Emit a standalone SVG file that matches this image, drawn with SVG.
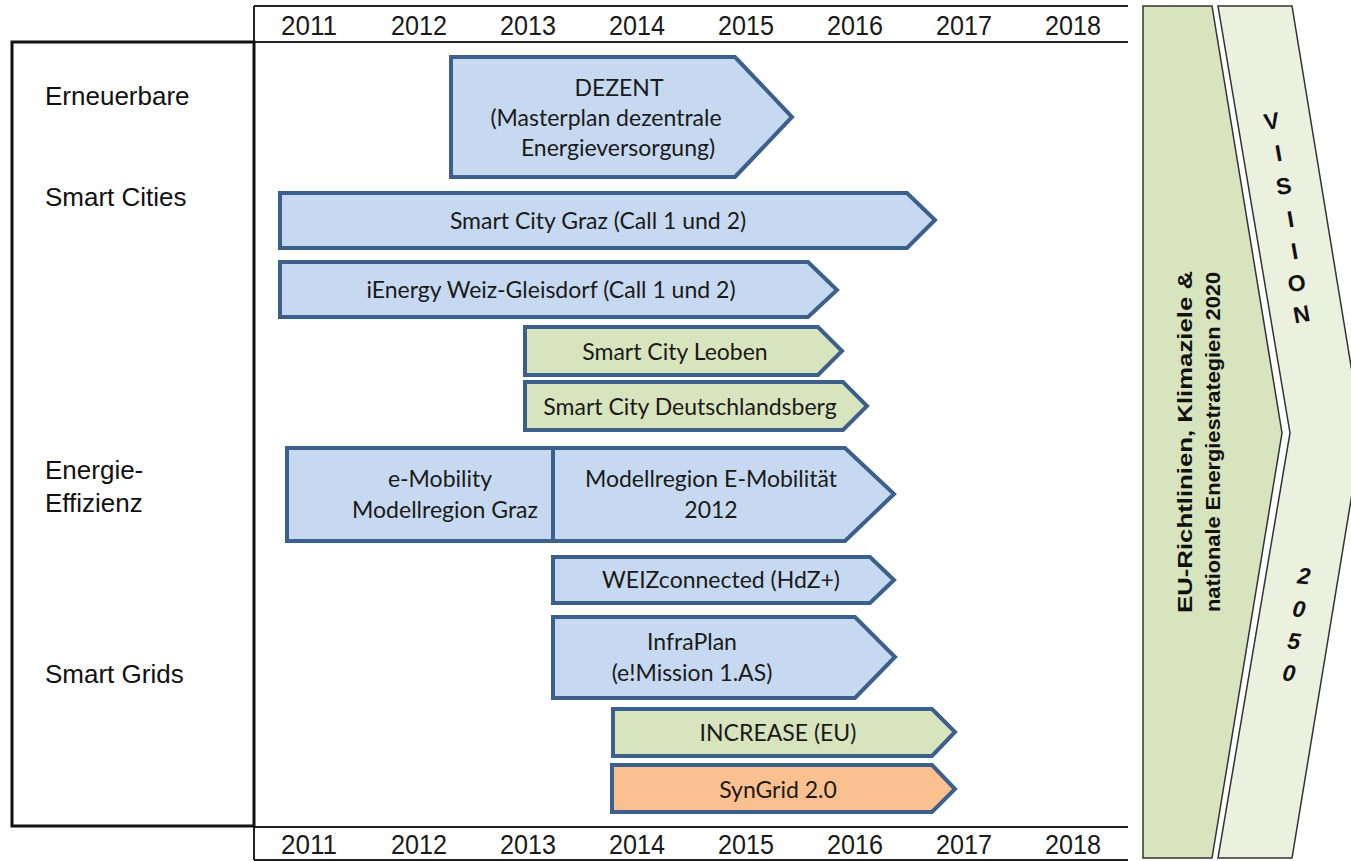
<svg xmlns="http://www.w3.org/2000/svg" width="1351" height="861" viewBox="0 0 1351 861">
  <style>
    .year { font-family: "Liberation Sans", Arial, sans-serif; font-size: 27px; fill: #1a1a1a; text-anchor: middle; }
    .cat { font-family: "Liberation Sans", Arial, sans-serif; font-size: 26px; fill: #111; }
    .bar { stroke: #3d5f8c; stroke-width: 4; stroke-linejoin: miter; }
    .blue { fill: #c6d9f1; }
    .green { fill: #d7e4bd; }
    .orange { fill: #fac090; }
    .lbl { font-family: Lato, "Noto Sans", sans-serif; font-size: 23px; fill: #1a1a1a; text-anchor: middle; }
    .grid { stroke: #222; stroke-width: 2; fill: none; }
    .side { font-family: "Liberation Sans", Arial, sans-serif; font-weight: bold; font-size: 21px; fill: #111; text-anchor: middle; }
    .vis { font-family: "Liberation Sans", Arial, sans-serif; font-weight: bold; font-size: 23px; fill: #111; text-anchor: middle; }
  </style>

  <rect width="1351" height="861" fill="#ffffff"/>

  <!-- year scale frame -->
  <g id="timeline-frame">
    <path class="grid" d="M254,6 H1128 M254,42 H1128 M254,827 H1128 M254,860 H1128 M254,6 V860"/>
  </g>

  <g id="years-top">
    <text class="year" x="309" y="35" textLength="56" lengthAdjust="spacingAndGlyphs">2011</text>
    <text class="year" x="419" y="35" textLength="56" lengthAdjust="spacingAndGlyphs">2012</text>
    <text class="year" x="528" y="35" textLength="56" lengthAdjust="spacingAndGlyphs">2013</text>
    <text class="year" x="637" y="35" textLength="56" lengthAdjust="spacingAndGlyphs">2014</text>
    <text class="year" x="746" y="35" textLength="56" lengthAdjust="spacingAndGlyphs">2015</text>
    <text class="year" x="855" y="35" textLength="56" lengthAdjust="spacingAndGlyphs">2016</text>
    <text class="year" x="964" y="35" textLength="56" lengthAdjust="spacingAndGlyphs">2017</text>
    <text class="year" x="1073" y="35" textLength="56" lengthAdjust="spacingAndGlyphs">2018</text>
  </g>
  <g id="years-bottom">
    <text class="year" x="309" y="854" textLength="56" lengthAdjust="spacingAndGlyphs">2011</text>
    <text class="year" x="419" y="854" textLength="56" lengthAdjust="spacingAndGlyphs">2012</text>
    <text class="year" x="528" y="854" textLength="56" lengthAdjust="spacingAndGlyphs">2013</text>
    <text class="year" x="637" y="854" textLength="56" lengthAdjust="spacingAndGlyphs">2014</text>
    <text class="year" x="746" y="854" textLength="56" lengthAdjust="spacingAndGlyphs">2015</text>
    <text class="year" x="855" y="854" textLength="56" lengthAdjust="spacingAndGlyphs">2016</text>
    <text class="year" x="964" y="854" textLength="56" lengthAdjust="spacingAndGlyphs">2017</text>
    <text class="year" x="1073" y="854" textLength="56" lengthAdjust="spacingAndGlyphs">2018</text>
  </g>

  <!-- category column -->
  <g id="categories">
    <rect x="12" y="42" width="242" height="784" fill="none" stroke="#111" stroke-width="3"/>
    <text class="cat" x="45" y="105">Erneuerbare</text>
    <text class="cat" x="45" y="206">Smart Cities</text>
    <text class="cat" x="45" y="479">Energie-</text>
    <text class="cat" x="45" y="512">Effizienz</text>
    <text class="cat" x="45" y="683">Smart Grids</text>
  </g>

  <!-- project bars -->
  <g id="dezent">
    <path class="bar blue" d="M451,57 H735 L792,117 L735,177 H451 Z"/>
    <text class="lbl" x="619" y="96">DEZENT</text>
    <text class="lbl" x="606" y="126">(Masterplan dezentrale</text>
    <text class="lbl" x="618" y="156">Energieversorgung)</text>
  </g>

  <g id="smart-city-graz">
    <path class="bar blue" d="M280,193 H907 L935,220 L907,248 H280 Z"/>
    <text class="lbl" x="598" y="229">Smart City Graz (Call 1 und 2)</text>
  </g>

  <g id="ienergy">
    <path class="bar blue" d="M280,262 H808 L837,290 L808,317 H280 Z"/>
    <text class="lbl" x="551" y="298">iEnergy Weiz-Gleisdorf (Call 1 und 2)</text>
  </g>

  <g id="smart-city-leoben">
    <path class="bar green" d="M525,327 H818 L842,351 L818,375 H525 Z"/>
    <text class="lbl" x="675" y="360">Smart City Leoben</text>
  </g>

  <g id="smart-city-deutschlandsberg">
    <path class="bar green" d="M525,382 H843 L867,406 L843,430 H525 Z"/>
    <text class="lbl" x="690" y="415">Smart City Deutschlandsberg</text>
  </g>

  <g id="e-mobility">
    <path class="bar blue" d="M287,448 H845 L894,494 L845,541 H287 Z"/>
    <path class="bar" d="M553,448 V541" fill="none"/>
    <text class="lbl" x="440" y="487">e-Mobility</text>
    <text class="lbl" x="445" y="518">Modellregion Graz</text>
    <text class="lbl" x="711" y="487">Modellregion E-Mobilität</text>
    <text class="lbl" x="711" y="518">2012</text>
  </g>

  <g id="weizconnected">
    <path class="bar blue" d="M553,557 H870 L894,580 L870,603 H553 Z"/>
    <text class="lbl" x="721" y="588">WEIZconnected (HdZ+)</text>
  </g>

  <g id="infraplan">
    <path class="bar blue" d="M553,617 H855 L895,657 L855,698 H553 Z"/>
    <text class="lbl" x="692" y="650">InfraPlan</text>
    <text class="lbl" x="692" y="681">(e!Mission 1.AS)</text>
  </g>

  <g id="increase">
    <path class="bar green" d="M613,709 H932 L955,732 L932,756 H613 Z"/>
    <text class="lbl" x="778" y="741">INCREASE (EU)</text>
  </g>

  <g id="syngrid">
    <path class="bar orange" d="M612,765 H932 L955,789 L932,812 H612 Z"/>
    <text class="lbl" x="778" y="798">SynGrid 2.0</text>
  </g>

  <!-- policy chevron -->
  <g id="eu-policy">
    <path d="M1143,6 H1212 L1282,433 L1212,858 H1143 Z" fill="#d7e4bd" stroke="#333" stroke-width="1.5"/>
    <g transform="translate(1200,442) rotate(-90)">
      <text class="side" x="0" y="-8" textLength="342" lengthAdjust="spacingAndGlyphs">EU-Richtlinien, Klimaziele &amp;</text>
      <text class="side" x="0" y="20" textLength="340" lengthAdjust="spacingAndGlyphs">nationale Energiestrategien 2020</text>
    </g>
  </g>

  <!-- vision chevron -->
  <g id="vision">
    <path d="M1218,6 H1292 L1362,433 L1292,858 H1218 L1290,433 Z" fill="#ebf1de" stroke="#333" stroke-width="1.5"/>
    <text class="vis" transform="translate(1273,129) rotate(-10)">V</text>
    <text class="vis" transform="translate(1280,161) rotate(-10)">I</text>
    <text class="vis" transform="translate(1285,194) rotate(-10)">S</text>
    <text class="vis" transform="translate(1292,227) rotate(-10)">I</text>
    <text class="vis" transform="translate(1296,259) rotate(-10)">I</text>
    <text class="vis" transform="translate(1298,291) rotate(-10)">O</text>
    <text class="vis" transform="translate(1303,322) rotate(-10)">N</text>
    <text class="vis" font-style="italic" transform="translate(1303,584) rotate(6)">2</text>
    <text class="vis" font-style="italic" transform="translate(1298,617) rotate(6)">0</text>
    <text class="vis" font-style="italic" transform="translate(1293,649) rotate(6)">5</text>
    <text class="vis" font-style="italic" transform="translate(1288,681) rotate(6)">0</text>
  </g>
</svg>
